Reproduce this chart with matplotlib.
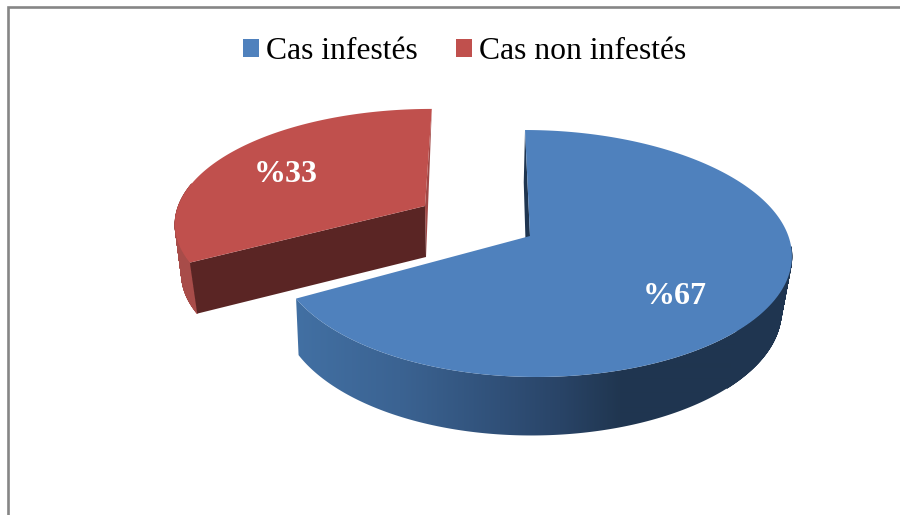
# -*- coding: utf-8 -*-
import numpy as np
import matplotlib
matplotlib.use("Agg")
import matplotlib.pyplot as plt
from matplotlib.collections import PolyCollection
from matplotlib.patches import Patch, Polygon

categories = ["Cas infestés", "Cas non infestés"]
values = [67, 33]

BLUE = "#4f81bd"
RED = "#c0504d"
GREY = "#868686"
BOW = 0.0132  # left/right asymmetry of the 3D view


def project(t_deg, apex, rx, ry, k, shear):
    """point of the rim at angle t (clockwise from 12 o'clock), pixel coords"""
    t = np.radians(t_deg)
    d = 1 + k * np.cos(t)
    w = np.sin(t) / d
    dy = -ry * np.cos(t) / d
    x = apex[0] + rx * w * (1 + BOW * w) + shear * dy
    return x, apex[1] + dy


def face(t0, t1, apex, rx, ry, k, shear, n=240):
    t = np.linspace(t0, t1, n)
    x, y = project(t, apex, rx, ry, k, shear)
    return np.r_[apex[0], x], np.r_[apex[1], y]


def rim(t0, t1, top, bottom, n=240):
    t = np.linspace(t0, t1, n)
    xa, ya = project(t, *top)
    xb, yb = project(t[::-1], *bottom)
    return np.c_[np.r_[xa, xb], np.r_[ya, yb]]


def rim_quads(t0, t1, top, bottom, n=200):
    # le balayage donne aussi la tangente entre les deux ellipses
    t = np.linspace(t0, t1, n)
    xa, ya = project(t, *top)
    xb, yb = project(t, *bottom)
    quads = []
    for i in range(n - 1):
        quads.append([(xa[i], ya[i]), (xa[i + 1], ya[i + 1]),
                      (xb[i + 1], yb[i + 1]), (xb[i], yb[i])])
    return quads


def cut_face(t, top, bottom):
    xa, ya = project(t, *top)
    xb, yb = project(t, *bottom)
    return ([top[0][0], xa, xb, bottom[0][0]],
            [top[0][1], ya, yb, bottom[0][1]])


fig = plt.figure(figsize=(9, 5.15), dpi=100)
ax = fig.add_axes([0, 0, 1, 1])
ax.set_xlim(0, 900)
ax.set_ylim(515, 0)
ax.axis("off")

# cadre gris (haut et gauche seulement)
ax.plot([8, 8, 900], [515, 7, 7], color=GREY, lw=1.9, solid_joinstyle="miter")

end_blue = 360 * values[0] / sum(values)

# part bleue
blue_top = ((530, 236), 255, 121, 0.1417, 0.047)
blue_bot = ((527, 291), 248, 124, 0.1417, 0.03)
ax.fill(*cut_face(0, blue_top, blue_bot), color="#1f3550", lw=0)
ax.add_collection(PolyCollection(rim_quads(95, 135, blue_top, blue_bot),
                                 facecolors="#1f3550", edgecolors="#1f3550", lw=0.5))

# degrade du bord, de gauche a droite
grad_x = np.arange(280, 810)
stops_x = [296, 400, 500, 560, 620, 800]
stops_rgb = [(0x42, 0x70, 0xa3), (0x3b, 0x63, 0x92), (0x30, 0x50, 0x78),
             (0x29, 0x44, 0x67), (0x20, 0x36, 0x50), (0x1f, 0x35, 0x50)]
grad = np.stack([np.interp(grad_x, stops_x, [c[i] for c in stops_rgb]) / 255
                 for i in range(3)], axis=-1)[np.newaxis, :, :]
im = ax.imshow(grad, extent=(280, 810, 440, 130), aspect="auto", interpolation="bilinear")
im.set_clip_path(Polygon(rim(95, end_blue, blue_top, blue_bot), closed=True, transform=ax.transData))
ax.set_xlim(0, 900)
ax.set_ylim(515, 0)
ax.fill(*face(0, end_blue, *blue_top), color=BLUE, lw=0)

# part rouge, detachee
red_top = ((425, 206), 250, 110, 0.133, -0.07)
red_bot = ((426, 257), 245, 110, 0.133, -0.04)
ax.add_collection(PolyCollection(rim_quads(end_blue, 282, red_top, red_bot),
                                 facecolors="#a84c49", edgecolors="#a84c49", lw=0.5))
ax.fill(*cut_face(360, red_top, red_bot), color="#a04846", lw=0)
ax.fill(*cut_face(end_blue, red_top, red_bot), color="#5a2524", lw=0)
ax.fill(*face(end_blue, 360, *red_top), color=RED, lw=0)

# etiquettes
serif = "Liberation Serif"
ax.text(674.5, 296, f"%{values[0]}", color="white", fontsize=23, fontweight="bold",
        family=serif, ha="center", va="center")
ax.text(285.5, 174, f"%{values[1]}", color="white", fontsize=23, fontweight="bold",
        family=serif, ha="center", va="center")

handles = [Patch(color=BLUE, lw=0), Patch(color=RED, lw=0)]
ax.legend(handles, categories, ncol=2, loc="center", bbox_to_anchor=(464.5, 51.5),
          bbox_transform=ax.transData, frameon=False, borderpad=0, borderaxespad=0,
          handlelength=0.506, handleheight=0.506, handletextpad=0.22, columnspacing=1.23,
          prop={"family": serif, "size": 22.8})

fig.savefig("out.png", dpi=100)
